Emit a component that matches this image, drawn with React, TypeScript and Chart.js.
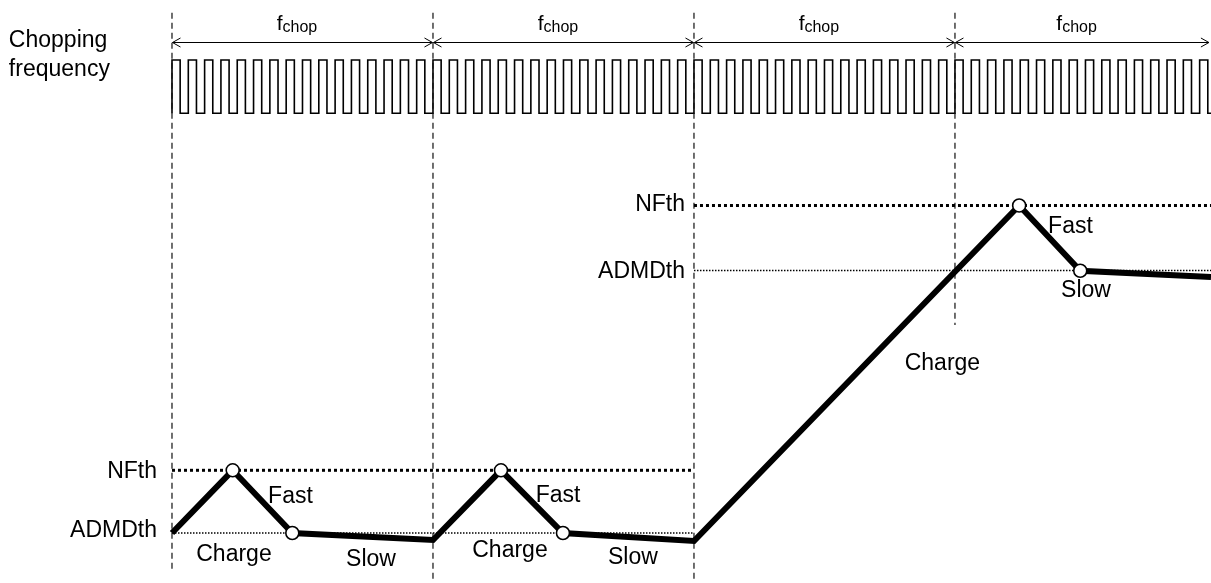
import { useEffect, useRef } from "react";
import { Chart, registerables } from "chart.js";

Chart.register(...registerables);

// Units: x = time in chopping periods (0 = first period boundary),
//        y = signal level (0 = lower ADMDth, ~1 = lower NFth)
const xRange = [-0.659, 3.981];
const yRange = [-0.781, 8.328];

const periodBoundaries = [0, 1, 2, 3];
const boundaryBottoms = [-0.56, -0.77, -0.77, 3.25];
const boundaryTop = 8.13;

const arrowSpans = [
  [0, 1],
  [1, 2],
  [2, 3],
  [3, 3.975],
];
const arrowLevel = 7.667;
const fchopBaseLevel = 7.855;
const fchopOffset = -0.099;

const pulsesPerPeriod = 16;
const waveHigh = 7.39;
const waveLow = 6.558;

// Signal trajectory (time, level)
const signalTimes = [0, 0.2326, 0.461, 1.0, 1.2605, 1.498, 2.0, 3.246, 3.48, 3.981];
const signalLevels = [0, 0.98, 0, -0.11, 0.98, 0, -0.125, 5.117, 4.098, 4.0];
const markerIndices = [1, 2, 4, 5, 7, 8];

// Thresholds
const lowNFth = 0.98;
const lowADMDth = 0;
const lowThresholdSpan = [0, 2];
const highNFth = 5.117;
const highADMDth = 4.1;
const highThresholdSpan = [2, 3.981];

// Text labels: text, time, level (cap centre), align
const labelTexts = ["Chopping", "frequency", "NFth", "ADMDth", "NFth", "ADMDth", "Fast", "Charge", "Slow", "Fast", "Charge", "Slow", "Fast", "Slow", "Charge"];
const labelTimes = [-0.625, -0.625, -0.0575, -0.0575, 1.9655, 1.9655, 0.454, 0.2375, 0.7625, 1.479, 1.295, 1.766, 3.4425, 3.502, 2.952];
const labelLevels = [7.73, 7.277, 0.984, 0.06, 5.156, 4.11, 0.594, -0.3125, -0.39, 0.609, -0.25, -0.36, 4.8125, 3.82, 2.677];
const labelAligns = ["left", "left", "right", "right", "right", "right", "center", "center", "center", "center", "center", "center", "center", "center", "center"];

const FONT = '"Liberation Sans", Arial, Helvetica, sans-serif';

function buildWave() {
  const pts: { x: number; y: number }[] = [];
  const half = 1 / (2 * pulsesPerPeriod);
  const end = xRange[1];
  let level = waveLow;
  pts.push({ x: 0, y: waveLow });
  for (let k = 0; k * half <= end; k++) {
    const t = k * half;
    if (k % 2 === 0) {
      pts.push({ x: t, y: waveLow }, { x: t, y: waveHigh });
      level = waveHigh;
    } else {
      pts.push({ x: t, y: waveHigh }, { x: t, y: waveLow });
      level = waveLow;
    }
  }
  pts.push({ x: end + 0.01, y: level });
  return pts;
}

const diagramPlugin = {
  id: "diagram",
  afterDatasetsDraw(chart: any) {
    const ctx = chart.ctx as CanvasRenderingContext2D;
    const xs = chart.scales.x;
    const ys = chart.scales.y;
    ctx.save();
    // arrows
    ctx.strokeStyle = "#000";
    ctx.lineWidth = 1;
    const ay = Math.round(ys.getPixelForValue(arrowLevel)) + 0.5;
    arrowSpans.forEach(([a, b]) => {
      const x1 = xs.getPixelForValue(a) + 0.5;
      const x2 = xs.getPixelForValue(b) - 0.5;
      ctx.beginPath();
      ctx.moveTo(x1, ay);
      ctx.lineTo(x2, ay);
      ctx.moveTo(x1 + 8, ay - 4.5);
      ctx.lineTo(x1, ay);
      ctx.lineTo(x1 + 8, ay + 4.5);
      ctx.moveTo(x2 - 8, ay - 4.5);
      ctx.lineTo(x2, ay);
      ctx.lineTo(x2 - 8, ay + 4.5);
      ctx.stroke();
    });
    // f_chop labels
    ctx.fillStyle = "#000";
    ctx.textBaseline = "alphabetic";
    ctx.textAlign = "left";
    arrowSpans.forEach(([a, b]) => {
      const mid = (a + b) / 2;
      const x = xs.getPixelForValue(mid + fchopOffset);
      const y = ys.getPixelForValue(fchopBaseLevel);
      ctx.font = `21px ${FONT}`;
      ctx.fillText("f", x, y);
      const w = ctx.measureText("f").width;
      ctx.font = `16px ${FONT}`;
      ctx.fillText("chop", x + w, y + 2);
    });
    // labels
    ctx.font = `23px ${FONT}`;
    const capHalf = 0.358 * 23;
    labelTexts.forEach((txt, i) => {
      ctx.textAlign = labelAligns[i] as CanvasTextAlign;
      ctx.fillText(txt, xs.getPixelForValue(labelTimes[i]), ys.getPixelForValue(labelLevels[i]) + capHalf);
    });
    ctx.restore();
  },
};

export default function App() {
  const ref = useRef<HTMLCanvasElement | null>(null);
  useEffect(() => {
    if (!ref.current) return;
    const line = (data: { x: number; y: number }[], extra: any) => ({
      data,
      showLine: true,
      pointRadius: 0,
      borderColor: "#000",
      borderWidth: 1,
      fill: false,
      tension: 0,
      clip: false,
      ...extra,
    });
    const datasets: any[] = [];
    // markers (top)
    datasets.push({
      data: markerIndices.map((i) => ({ x: signalTimes[i], y: signalLevels[i] })),
      showLine: false,
      pointRadius: 6.5,
      pointBackgroundColor: "#fff",
      pointBorderColor: "#000",
      pointBorderWidth: 1.6,
      pointStyle: "circle",
      clip: false,
      order: 0,
    });
    // signal
    datasets.push(
      line(
        signalTimes.map((t, i) => ({ x: t, y: signalLevels[i] })),
        { borderWidth: 6, borderJoinStyle: "miter", order: 1 }
      )
    );
    // thresholds
    datasets.push(line(lowThresholdSpan.map((t) => ({ x: t, y: lowNFth })), { borderWidth: 3, borderDash: [3, 3], order: 2 }));
    datasets.push(line(highThresholdSpan.map((t) => ({ x: t, y: highNFth })), { borderWidth: 3, borderDash: [3, 3], order: 2 }));
    datasets.push(line(lowThresholdSpan.map((t) => ({ x: t, y: lowADMDth })), { borderWidth: 1.5, borderDash: [1.5, 1.5], borderColor: "#000", order: 3 }));
    datasets.push(line(highThresholdSpan.map((t) => ({ x: t, y: highADMDth })), { borderWidth: 1.5, borderDash: [1.5, 1.5], borderColor: "#000", order: 3 }));
    // boundaries
    periodBoundaries.forEach((t, i) => {
      datasets.push(
        line(
          [
            { x: t, y: boundaryTop },
            { x: t, y: boundaryBottoms[i] },
          ],
          { borderWidth: 1.2, borderDash: [6, 4], borderColor: "#111", order: 4 }
        )
      );
    });
    // chopping wave
    datasets.push(line(buildWave(), { borderWidth: 1.6, borderColor: "#000", borderJoinStyle: "miter", order: 5 }));

    const chart = new Chart(ref.current, {
      type: "scatter",
      data: { datasets },
      options: {
        animation: false,
        responsive: false,
        events: [],
        layout: { padding: 0, autoPadding: false } as any,
        plugins: { legend: { display: false }, tooltip: { enabled: false }, title: { display: false } },
        scales: {
          x: { type: "linear", min: xRange[0], max: xRange[1], display: false },
          y: { type: "linear", min: yRange[0], max: yRange[1], display: false },
        },
      },
      plugins: [diagramPlugin],
    });
    return () => chart.destroy();
  }, []);
  return (
    <div style={{ position: "fixed", left: 0, top: 0, width: 1211, height: 583, background: "#fff" }}>
      <canvas ref={ref} width={1211} height={583} style={{ display: "block" }} />
    </div>
  );
}
